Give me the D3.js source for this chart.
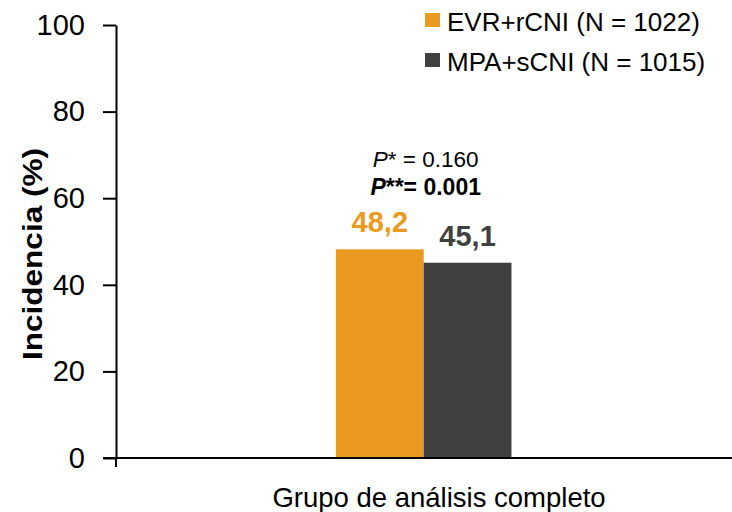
<!DOCTYPE html>
<html>
<head>
<meta charset="utf-8">
<script src="https://cdn.jsdelivr.net/npm/d3@7"></script>
<style>
  body { margin: 0; background: #fff; }
  svg { font-family: "Liberation Sans", Arial, sans-serif; }
</style>
</head>
<body>
<svg id="chart" width="732" height="512"></svg>
<script>
const categories = ["Grupo de análisis completo"];
const seriesNames = ["EVR+rCNI (N = 1022)", "MPA+sCNI (N = 1015)"];
const seriesValues = [48.2, 45.1];
const valueLabels = ["48,2", "45,1"];
const yTicks = [0, 20, 40, 60, 80, 100];
const colors = ["#EA9A21", "#404040"];

const svg = d3.select("#chart");
const width = 732, height = 512;
const margin = { top: 25, right: 0, bottom: 54, left: 116 };

const x = d3.scaleBand()
  .domain(categories)
  .range([margin.left, width - margin.right]);

// bar group sits in the middle of the band
const x1 = d3.scaleBand()
  .domain(d3.range(seriesValues.length))
  .range([x(categories[0]) + x.bandwidth() * 0.357, x(categories[0]) + x.bandwidth() * 0.642]);

const y = d3.scaleLinear()
  .domain([0, 100])
  .range([height - margin.bottom, margin.top]);

// bars
svg.append("g")
  .selectAll("rect")
  .data(seriesValues)
  .enter()
  .append("rect")
  .attr("x", (d, i) => x1(i))
  .attr("y", (d) => y(d))
  .attr("width", x1.bandwidth())
  .attr("height", (d) => y(0) - y(d))
  .attr("fill", (d, i) => colors[i]);

// value labels
svg.append("g")
  .selectAll("text")
  .data(seriesValues)
  .enter()
  .append("text")
  .attr("x", (d, i) => x1(i) + x1.bandwidth() / 2)
  .attr("y", (d) => y(d) - 17)
  .attr("text-anchor", "middle")
  .attr("font-size", "29px")
  .attr("font-weight", "bold")
  .attr("fill", (d, i) => colors[i])
  .text((d, i) => valueLabels[i]);

// p values
const cx = x1(0) + x1.bandwidth() + 2;
const p1 = svg.append("text")
  .attr("x", cx)
  .attr("y", 167)
  .attr("text-anchor", "middle")
  .attr("font-size", "22.5px")
  .attr("fill", "#000");
p1.append("tspan").attr("font-style", "italic").text("P");
p1.append("tspan").text("* = 0.160");

const p2 = svg.append("text")
  .attr("x", cx)
  .attr("y", 195)
  .attr("text-anchor", "middle")
  .attr("font-size", "23px")
  .attr("font-weight", "bold")
  .attr("fill", "#000");
p2.append("tspan").attr("font-style", "italic").text("P");
p2.append("tspan").text("**= 0.001");

// y axis
const yAxis = svg.append("g")
  .attr("transform", `translate(${margin.left},0)`)
  .call(d3.axisLeft(y).tickValues(yTicks).tickSize(13).tickPadding(18).tickSizeOuter(0));
yAxis.selectAll("path, line").attr("stroke", "#000").attr("stroke-width", 2);
yAxis.selectAll("text").attr("font-size", "29px").attr("fill", "#000")
  .attr("font-family", "'Liberation Sans', Arial, sans-serif");

// x axis
const xAxisY = y(0);
svg.append("line")
  .attr("x1", margin.left - 13)
  .attr("x2", width)
  .attr("y1", xAxisY)
  .attr("y2", xAxisY)
  .attr("stroke", "#000")
  .attr("stroke-width", 2);
svg.append("line")
  .attr("x1", margin.left)
  .attr("x2", margin.left)
  .attr("y1", xAxisY)
  .attr("y2", xAxisY + 9)
  .attr("stroke", "#000")
  .attr("stroke-width", 2);

svg.append("g")
  .selectAll("text")
  .data(categories)
  .enter()
  .append("text")
  .attr("x", 439)
  .attr("y", 507)
  .attr("text-anchor", "middle")
  .attr("font-size", "27.5px")
  .attr("fill", "#000")
  .text((d) => d);

// y axis title
svg.append("text")
  .attr("transform", `translate(42, 254) rotate(-90)`)
  .attr("text-anchor", "middle")
  .attr("font-size", "27px")
  .attr("font-weight", "bold")
  .attr("fill", "#000")
  .attr("textLength", 212)
  .attr("lengthAdjust", "spacingAndGlyphs")
  .text("Incidencia (%)");

// legend
const legend = svg.append("g")
  .selectAll("g")
  .data(seriesNames)
  .enter()
  .append("g")
  .attr("transform", (d, i) => `translate(425, ${13 + i * 40})`);
legend.append("rect")
  .attr("width", 15)
  .attr("height", 14)
  .attr("fill", (d, i) => colors[i]);
legend.append("text")
  .attr("x", 22)
  .attr("y", 18)
  .attr("font-size", "26px")
  .attr("fill", "#000")
  .text((d) => d);
</script>
</body>
</html>
